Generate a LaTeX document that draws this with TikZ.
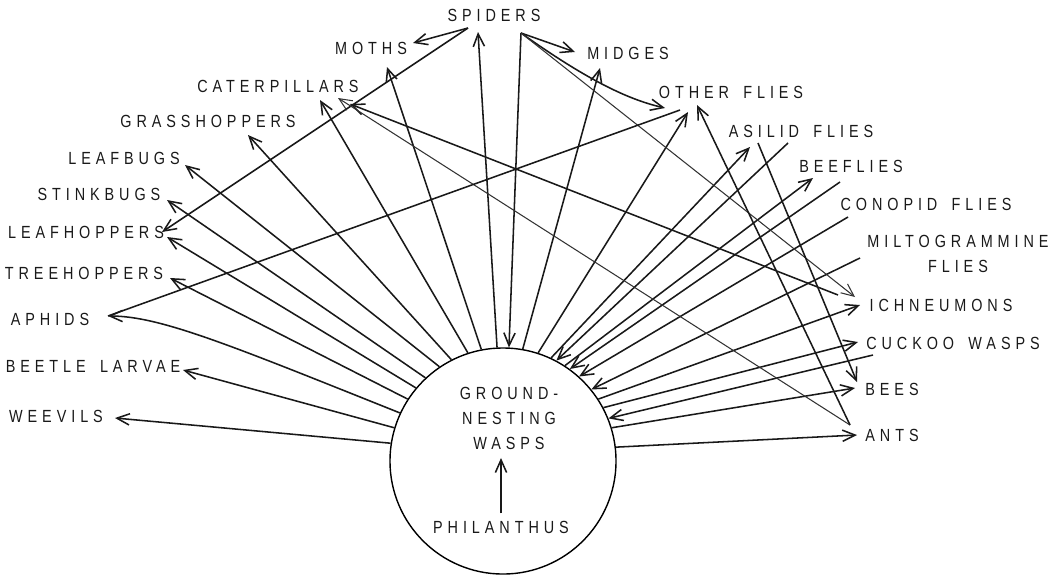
\documentclass[tikz,border=0pt]{standalone}
\usepackage{fontspec}
\setmainfont{Liberation Sans}[FakeStretch=0.82,LetterSpace=28,WordSpace=1.6]
\usetikzlibrary{arrows.meta}
\begin{document}
\begin{tikzpicture}[x=0.025cm,y=-0.025cm,
  lbl/.style={font=\fontsize{12.5}{17.8}\selectfont, inner sep=0pt, text=black!90},
  ln/.style={line width=1.1pt, draw=black!90},
  thinln/.style={line width=0.75pt, draw=black!80},
  hd/.style={-{Straight Barb[length=9pt,width=8pt]}}
]
\useasboundingbox (0,0) rectangle (1062,574);

% labels
\node[lbl] (spiders) at (494,15) {SPIDERS};
\node[lbl] (moths) at (371,48) {MOTHS};
\node[lbl] (midges) at (628,53) {MIDGES};
\node[lbl] (cater) at (278,86) {CATERPILLARS};
\node[lbl] (oflies) at (731,92) {OTHER FLIES};
\node[lbl] (grass) at (208,121) {GRASSHOPPERS};
\node[lbl] (asilid) at (801,131) {ASILID FLIES};
\node[lbl] (leafbugs) at (124,158) {LEAFBUGS};
\node[lbl] (beeflies) at (851,166) {BEEFLIES};
\node[lbl] (stink) at (99,194) {STINKBUGS};
\node[lbl] (conopid) at (926,204) {CONOPID FLIES};
\node[lbl] (leafhop) at (86,232) {LEAFHOPPERS};
\node[lbl, align=center] (milto) at (958,254) {MILTOGRAMMINE\\FLIES};
\node[lbl] (tree) at (84,273) {TREEHOPPERS};
\node[lbl] (ichn) at (941,305) {ICHNEUMONS};
\node[lbl] (aphids) at (50,319) {APHIDS};
\node[lbl] (cuckoo) at (953,343) {CUCKOO WASPS};
\node[lbl] (beetle) at (93,366) {BEETLE LARVAE};
\node[lbl] (bees) at (892,389) {BEES};
\node[lbl] (weevils) at (56,416) {WEEVILS};
\node[lbl] (ants) at (892,435) {ANTS};

% central circle
\node[draw, circle, line width=1pt, minimum size=5.65cm, inner sep=0pt] (c) at (503,461) {};
\node[lbl, align=center] (gnw) at (509,418) {GROUND-\\NESTING\\WASPS};
\node[lbl] (phil) at (501,527) {PHILANTHUS};
\draw[ln,hd] ([yshift=5pt]phil.north) -- ([yshift=-6pt]phil.north |- gnw.south);

% arrow end points near the labels
\coordinate (weevilsT) at (115,418);
\coordinate (beetleT) at (183,370);
\coordinate (aphidsT) at (108,316);
\coordinate (treeT) at (170,278);
\coordinate (leafhopT) at (167,237);
\coordinate (leafhopT2) at (162,232);
\coordinate (stinkT) at (167,200);
\coordinate (leafbugT) at (185,165);
\coordinate (grassT) at (248,135);
\coordinate (catT1) at (320,100);
\coordinate (catT2) at (338,98);
\coordinate (catT3) at (350,104);
\coordinate (mothsT) at (387,67);
\coordinate (mothsT2) at (413,43);
\coordinate (spidL) at (468,28);
\coordinate (spidT) at (478,32);
\coordinate (spidR) at (521,33);
\coordinate (midgesT) at (575,52);
\coordinate (midgesT2) at (600,68);
\coordinate (ofT1) at (665,108);
\coordinate (ofA) at (680,110);
\coordinate (ofT2) at (688,112);
\coordinate (ofT3) at (697,105);
\coordinate (asT) at (750,147);
\coordinate (asB) at (758,143);
\coordinate (asC) at (788,143);
\coordinate (beeflT) at (813,178);
\coordinate (beeflC) at (840,182);
\coordinate (conC) at (848,217);
\coordinate (milC) at (860,258);
\coordinate (ichC) at (838,295);
\coordinate (ichT2) at (855,297);
\coordinate (ichT) at (860,305);
\coordinate (cuckT) at (858,342);
\coordinate (cuckC) at (873,355);
\coordinate (beesT2) at (857,382);
\coordinate (beesT) at (855,388);
\coordinate (antsC) at (850,425);
\coordinate (antsT) at (857,435);

% wasps -> prey (left)
\draw[ln,hd] (c.171) -- (weevilsT);
\draw[ln,hd] (c.163) -- (beetleT);
\draw[ln,hd] (c.155) .. controls (230,345) and (160,316) .. (aphidsT);
\draw[ln,hd] (c.147) -- (treeT);
\draw[ln,hd] (c.140) -- (leafhopT);
\draw[ln,hd] (c.133) -- (stinkT);
\draw[ln,hd] (c.124) -- (leafbugT);
\draw[ln,hd] (c.117) -- (grassT);
\draw[ln,hd] (c.108) -- (catT1);
\draw[ln,hd] (c.101) -- (mothsT);
\draw[ln,hd] (c.93) -- (spidT);
\draw[ln,hd] (spidR) -- (c.87);

% right side
\draw[ln,hd] (c.80) -- (midgesT2);
\draw[ln,hd] (c.72) -- (ofT2);
\draw[ln,hd] (c.65) -- (asT);
\draw[ln,hd] (asC) -- (c.62);
\draw[ln,hd] (c.57) -- (beeflT);
\draw[ln,hd] (beeflC) -- (c.54);
\draw[ln,hd] (conC) -- (c.48);
\draw[ln,hd] (milC) -- (c.39);
\draw[ln,hd] (c.33) -- (ichT);
\draw[ln,hd] (c.28) -- (cuckT);
\draw[ln,hd] (cuckC) -- (c.22);
\draw[ln,hd] (c.17) -- (beesT);
\draw[ln,hd] (c.7) -- (antsT);

% cross links
\draw[ln,hd] (spidL) -- (mothsT2);
\draw[ln,hd] (spidL) -- (leafhopT2);
\draw[ln,hd] (spidR) -- (midgesT);
\draw[ln,hd] (spidR) .. controls (590,82) and (630,100) .. (ofT1);
\draw[thinln,hd] (spidR) -- (ichT2);
\draw[ln,hd] (ichC) -- (catT3);
\draw[thinln,hd] (antsC) -- (catT2);
\draw[ln,hd] (antsC) -- (ofT3);
\draw[ln,hd] (asB) -- (beesT2);
\draw[ln] (ofA) -- (aphidsT);
\end{tikzpicture}
\end{document}
